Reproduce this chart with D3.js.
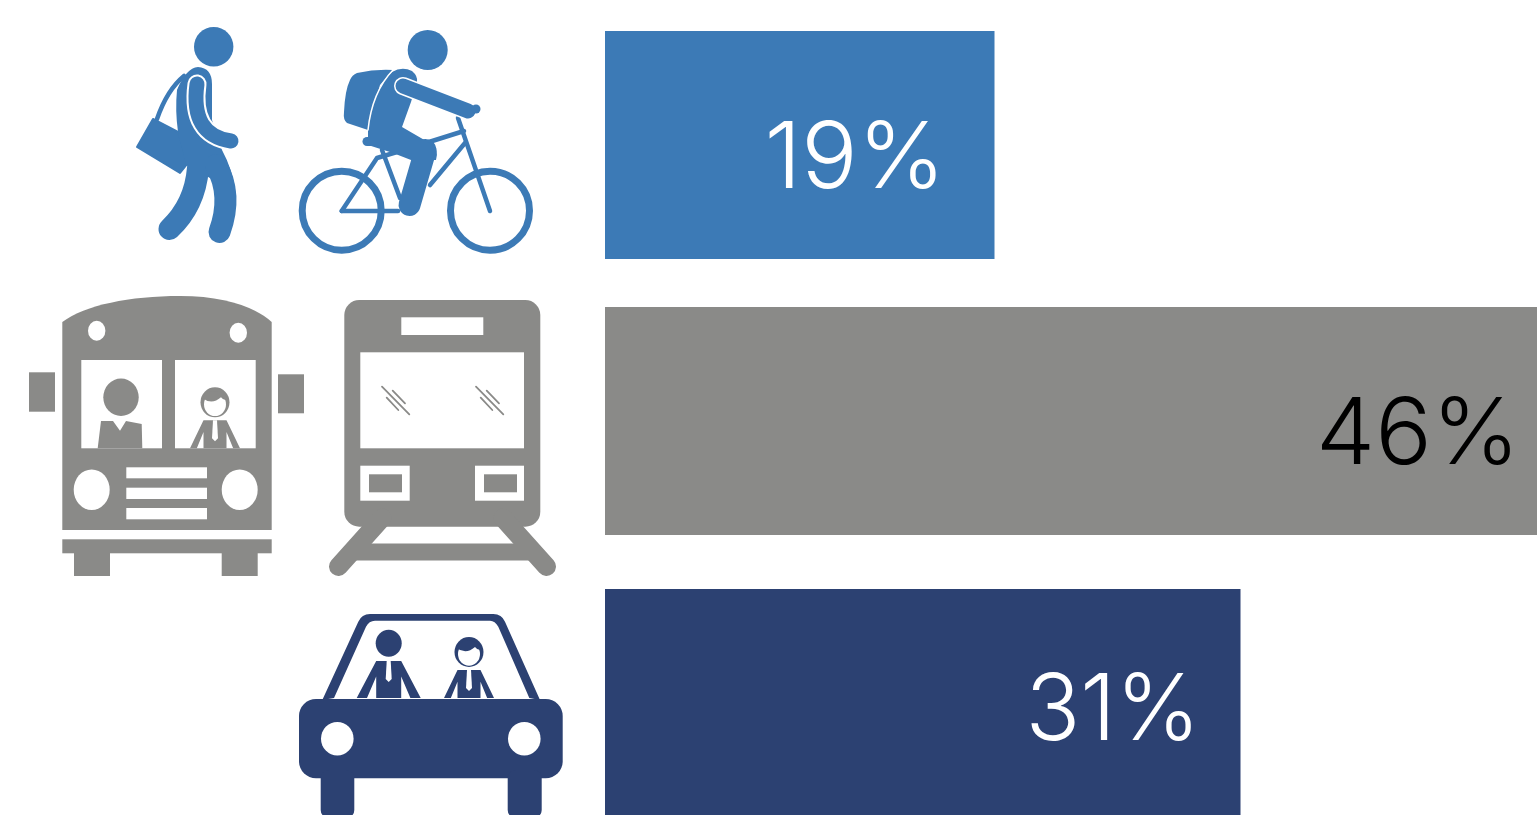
<!DOCTYPE html>
<html>
<head>
<meta charset="utf-8">
<script src="https://cdnjs.cloudflare.com/ajax/libs/d3/7.8.5/d3.min.js"></script>
<style>
	html, body { margin: 0; padding: 0; background: #fff; overflow: hidden; }
	svg { display: block; }
	.pct { font-family: Inter, "Open Sans", sans-serif; font-weight: 300; font-size: 92px; }
</style>
</head>
<body>
<div id="chart"></div>
<script>
// Data
var modes = ['active', 'transit', 'car'];
var shares = [19, 46, 31];
var shareLabels = ['19%', '46%', '31%'];

var width = 1537, height = 815;
var blue = '#3c7ab6', gray = '#8a8a88', navy = '#2c4172';

var svg = d3.select('#chart').append('svg')
	.attr('width', width)
	.attr('height', height);

// Scales
var x = d3.scaleLinear().domain([0, d3.max(shares)]).range([605, 1548]);
var y = d3.scaleOrdinal().domain(modes).range([31, 307, 589]);
var color = d3.scaleOrdinal().domain(modes).range([blue, gray, navy]);
var textColor = d3.scaleOrdinal().domain(modes).range(['#fff', '#000', '#fff']);
var labelEnd = d3.scaleOrdinal().domain(modes).range([49, 28, 40]);
var labelWidth = d3.scaleOrdinal().domain(modes).range([181, 204, 175]);
var labelBase = d3.scaleOrdinal().domain(modes).range([157, 157, 151]);
var barHeight = 228;

// Bars
svg.selectAll('rect.bar')
	.data(modes).enter()
	.append('rect')
	.attr('class', 'bar')
	.attr('x', x(0))
	.attr('y', function(d) { return y(d) })
	.attr('width', function(d, i) { return x(shares[i]) - x(0) })
	.attr('height', barHeight)
	.style('fill', function(d) { return color(d) });

svg.selectAll('text.pct')
	.data(modes).enter()
	.append('text')
	.attr('class', 'pct')
	.attr('x', function(d, i) { return x(shares[i]) - labelEnd(d) - labelWidth(d) })
	.attr('y', function(d) { return y(d) + labelBase(d) })
	.attr('textLength', function(d) { return labelWidth(d) })
	.attr('lengthAdjust', 'spacingAndGlyphs')
	.style('fill', function(d) { return textColor(d) })
	.text(function(d, i) { return shareLabels[i] });

// Icon helpers
function fillPath(g, d, fill) {
	return g.append('path').attr('d', d).style('fill', fill);
}
function stroke(g, d, col, w) {
	return g.append('path').attr('d', d)
		.style('fill', 'none').style('stroke', col).style('stroke-width', w)
		.style('stroke-linecap', 'round').style('stroke-linejoin', 'round');
}
function ell(g, cx, cy, rx, ry, fill) {
	return g.append('ellipse').attr('cx', cx).attr('cy', cy).attr('rx', rx).attr('ry', ry).style('fill', fill);
}
function box(g, x0, y0, x1, y1, fill, r) {
	return g.append('rect').attr('x', x0).attr('y', y0).attr('width', x1 - x0).attr('height', y1 - y0)
		.attr('rx', r || 0).style('fill', fill);
}

// Seated figure, body only: bottom edge at by
function torso(g, cx, by, h, spread, half, col) {
	var gap = half + (spread - half) * 0.42;
	fillPath(g, 'M' + (cx - half) + ',' + (by - h)
		+ 'L' + (cx + half) + ',' + (by - h)
		+ 'L' + (cx + spread) + ',' + by
		+ 'L' + (cx + gap + 1) + ',' + by
		+ 'L' + (cx + half) + ',' + (by - h * 0.58)
		+ 'L' + (cx + half) + ',' + by
		+ 'L' + (cx - half) + ',' + by
		+ 'L' + (cx - half) + ',' + (by - h * 0.58)
		+ 'L' + (cx - gap - 1) + ',' + by
		+ 'L' + (cx - spread) + ',' + by + 'Z', col);
	// white shirt and tie
	fillPath(g, 'M' + (cx - 2) + ',' + (by - h) + 'L' + (cx + 2) + ',' + (by - h)
		+ 'L' + (cx + 3) + ',' + (by - h + 18) + 'L' + cx + ',' + (by - h + 21)
		+ 'L' + (cx - 3) + ',' + (by - h + 18) + 'Z', '#fff');
}

// Figure with hair and outlined face
function manWithHair(g, cx, by, col) {
	torso(g, cx, by, 28, 25, 11.5, col);
	ell(g, cx, by - 46, 14.5, 15, col);
	ell(g, cx, by - 44, 11, 11.8, '#fff');
	// fringe, follows the top of the head
	fillPath(g, 'M' + (cx - 12.5) + ',' + (by - 50)
		+ 'Q' + (cx - 3) + ',' + (by - 43) + ' ' + (cx + 6) + ',' + (by - 51)
		+ 'Q' + (cx + 9) + ',' + (by - 47) + ' ' + (cx + 13) + ',' + (by - 49)
		+ 'A14.5,15 0 0 0 ' + (cx - 12.5) + ',' + (by - 50) + 'Z', col);
}

// Walker
var walker = svg.append('g');
ell(walker, 213.7, 46.7, 19.7, 19.7, blue);
stroke(walker, 'M157,119Q167,90 184,76', blue, 4.5);
fillPath(walker, 'M153,119L178,132L188,163L180,173L137,147Z', blue)
	.style('stroke', blue).style('stroke-width', 2).style('stroke-linejoin', 'round');
fillPath(walker, 'M177,90Q186,68 198,67Q212,68 212,84L212,120L222,150Q233,170 236,195L210,178L186,165L178,132Q175,110 177,90Z', blue);
stroke(walker, 'M198,168Q195,205 169.5,229', blue, 22);
stroke(walker, 'M216,165Q233,195 219.5,232', blue, 22);
stroke(walker, 'M197,84Q190,135 231,141', '#fff', 19);
stroke(walker, 'M197,84Q190,135 231,141', blue, 15);
box(walker, 188, 148, 208, 165, blue);

// Cyclist
var cyclist = svg.append('g');
ell(cyclist, 427.7, 50, 20, 20, blue);
fillPath(cyclist, 'M357,73Q375,69 393,70L380,85L368,130L347,123Q343,120 344,112Q345,90 350,80Q352,75 357,73Z', blue);
[[341.7, 210.7], [490, 210.7]].forEach(function(c) {
	cyclist.append('circle').attr('cx', c[0]).attr('cy', c[1]).attr('r', 39.5)
		.style('fill', 'none').style('stroke', blue).style('stroke-width', 7);
});
stroke(cyclist, 'M458,118L490,211', blue, 4.5);
stroke(cyclist, 'M429,142L464,131', blue, 4.5);
stroke(cyclist, 'M465,143L430,185', blue, 4.5);
stroke(cyclist, 'M382,150L400,198', blue, 4.5);
stroke(cyclist, 'M341.7,211L377,158L397,152', blue, 4.5);
stroke(cyclist, 'M341.7,211L398,211', blue, 4.5);
stroke(cyclist, 'M367,141.5L392,141.5', blue, 9);
stroke(cyclist, 'M425.5,150L409.5,205', blue, 22);
fillPath(cyclist, 'M368,130Q372,90 392,72Q402,66 412,71Q418,76 417,82L411,102L402,127L433,145Q439,150 436,160L411,160L393,153L368,145Z', blue);
stroke(cyclist, 'M393,70Q372,92 368,130', '#fff', 1.5);
stroke(cyclist, 'M403,86L468,111', '#fff', 18);
stroke(cyclist, 'M403,86L468,111', blue, 15);
cyclist.append('circle').attr('cx', 476).attr('cy', 109).attr('r', 4.5).style('fill', blue);

// Bus
var bus = svg.append('g');
fillPath(bus, 'M62.3,322C85,305 130,296 180,296C225,296 255,307 271.7,322L271.7,530L62.3,530Z', gray);
box(bus, 62.3, 539.3, 271.7, 553.3, gray);
box(bus, 74, 553, 110, 576, gray);
box(bus, 221.7, 553, 257.7, 576, gray);
box(bus, 29, 372.3, 55, 411.7, gray);
box(bus, 278, 374.3, 304, 413.3, gray);
ell(bus, 96.7, 330.7, 8.7, 10, '#fff');
ell(bus, 238.3, 332.7, 8.7, 10, '#fff');
box(bus, 81.3, 360, 162, 448.3, '#fff');
box(bus, 175, 360, 255.7, 448.3, '#fff');
ell(bus, 91.7, 489.7, 18, 20.3, '#fff');
ell(bus, 239.7, 489.7, 18, 20.3, '#fff');
box(bus, 126.3, 467.3, 207, 478.3, '#fff');
box(bus, 126.3, 487.7, 207, 499, '#fff');
box(bus, 126.3, 508, 207, 519.3, '#fff');
ell(bus, 121, 397.3, 17.7, 18.7, gray);
fillPath(bus, 'M97.7,448.3L101,421L113,421L120,430.7L126,421L141.7,424L142.3,448.3Z', gray);
manWithHair(bus, 215, 448.3, gray);

// Train
var train = svg.append('g');
box(train, 344.3, 300, 540.3, 526.7, gray, 15);
box(train, 401.3, 317.3, 483.3, 335, '#fff');
box(train, 360.3, 352.3, 524, 448.3, '#fff');
box(train, 360.3, 465.7, 409.7, 500.7, '#fff');
box(train, 369, 474.3, 402, 492.3, gray);
box(train, 475, 465.7, 524, 500.7, '#fff');
box(train, 484, 474.3, 517, 492.3, gray);
stroke(train, 'M382,518L338.5,566.5', gray, 19);
stroke(train, 'M503,518L546.5,566.5', gray, 19);
box(train, 355, 543.5, 530, 560.5, gray);
[0, 94].forEach(function(dx) {
	[[382, 386.7, 409.3, 414.3], [392.7, 390.7, 405, 403.3], [386.7, 397.7, 398.3, 410]].forEach(function(s) {
		train.append('line')
			.attr('x1', s[0] + dx).attr('y1', s[1]).attr('x2', s[2] + dx).attr('y2', s[3])
			.style('stroke', gray).style('stroke-width', 1.8).style('stroke-linecap', 'round');
	});
});

// Car
var car = svg.append('g');
fillPath(car, 'M322.3,700L358.3,621.7Q361.7,614 370,614L493.3,614Q501.7,614 505,621.7L540,700'
	+ 'L529.3,698L498.3,626.7Q495,620.7 490,620.7L375,620.7Q369,620.7 366,626.7L334,698Z', navy);
box(car, 299, 699, 562.7, 778.3, navy, 17);
box(car, 320.7, 770, 354.3, 818, navy, 8);
box(car, 507.7, 770, 541.7, 818, navy, 8);
ell(car, 337.3, 738.7, 16.3, 16.8, '#fff');
ell(car, 524.3, 738.7, 16.3, 16.8, '#fff');
ell(car, 388.7, 643.3, 13, 13.5, navy);
torso(car, 388.7, 698, 37, 32, 12.5, navy);
manWithHair(car, 469, 698, navy);
</script>
</body>
</html>
